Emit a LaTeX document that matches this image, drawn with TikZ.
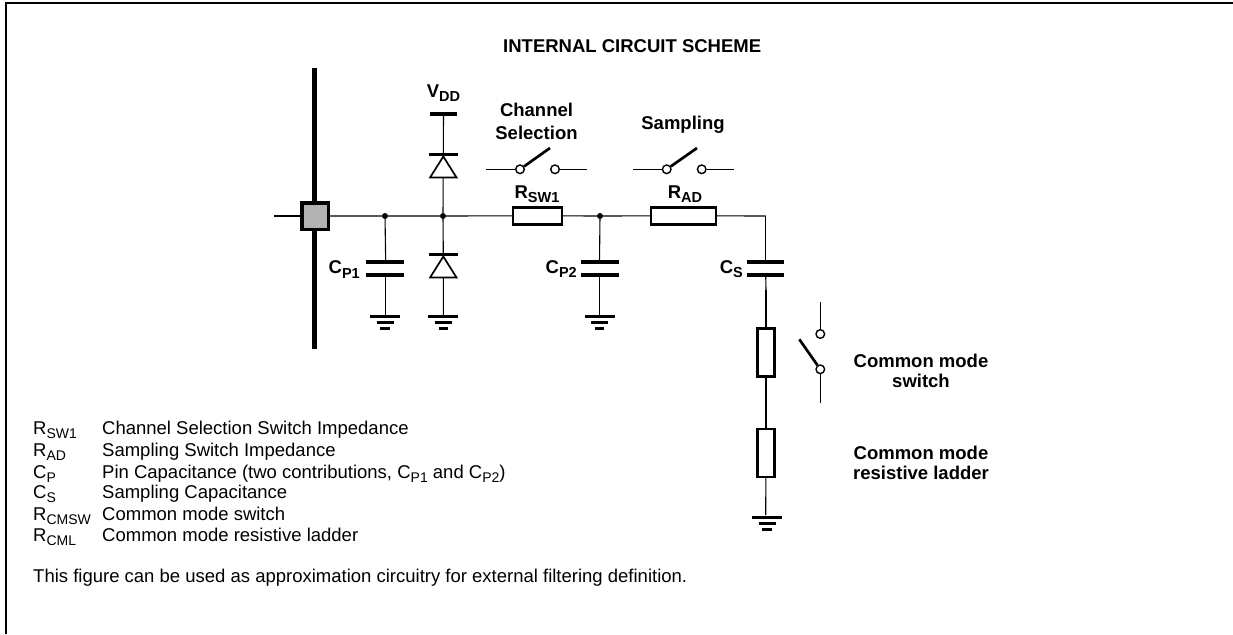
\documentclass[tikz,border=0pt]{standalone}
\usepackage{fontspec}
\setmainfont{Liberation Sans}
\usetikzlibrary{calc}
\newcommand{\subt}[1]{\raisebox{-4.5pt}{\fontsize{14.5}{16}\selectfont #1}}
\newcommand{\subl}[1]{\raisebox{-4pt}{\fontsize{14}{16}\selectfont #1}}
\tikzset{
  x=1pt,y=-1pt,
  wire/.style={line width=1.1pt,black},
  plate/.style={line width=4pt,black},
  thick wire/.style={line width=1.8pt,black},
  res/.style={draw=black,line width=2.4pt,fill=white,rectangle,inner sep=0pt,minimum width=#1,minimum height=17pt},
  resv/.style={draw=black,line width=2.4pt,fill=white,rectangle,inner sep=0pt,minimum width=17.3pt,minimum height=#1},
  dot/.style={circle,fill=black,inner sep=0pt,minimum size=6pt},
  contact/.style={circle,draw=black,line width=1.4pt,fill=white,inner sep=0pt,minimum size=8.6pt},
  arm/.style={line width=2.7pt,black},
  lbl/.style={inner sep=0pt,font=\fontsize{18.5}{20}\selectfont\bfseries,align=center},
  lgd/.style={inner sep=0pt,anchor=base west,font=\fontsize{18.5}{20}\selectfont},
}
\newcommand{\gnd}[2]{%
  \draw[line width=3pt] (#1-15,#2) -- (#1+15,#2);
  \draw[line width=3pt] (#1-8.5,#2+6) -- (#1+8.5,#2+6);
  \draw[line width=3pt] (#1-4.7,#2+12) -- (#1+4.7,#2+12);
}
\newcommand{\diode}[2]{%
  \draw[line width=1.7pt,fill=white,line join=miter] (#1,#2+2) -- (#1-13.2,#2+23) -- (#1+13.2,#2+23) -- cycle;
  \draw[line width=3pt] (#1-14.5,#2) -- (#1+14.5,#2);
}
\begin{document}
\begin{tikzpicture}
\useasboundingbox (0,0) rectangle (1233,634);
\fill[white] (0,0) rectangle (1233,634);
% frame
\draw[line width=2pt] (6,634) -- (6,3) -- (1233,3);
\node[lbl,anchor=base west] (title) at (503,52.7) {INTERNAL CIRCUIT SCHEME};
% pin
\coordinate (bust) at (314.5,68);
\coordinate (busb) at (314.5,349);
\draw[line width=5pt] (bust) -- (busb);
\coordinate (inL) at (274,216);
\node[draw=black,line width=3.5pt,fill=black!30,minimum size=26.5pt,inner sep=0pt] (pin) at (315,216) {};
\node[dot] (n1) at (385,216) {};
\node[dot] (n2) at (443,216) {};
\node[dot] (n3) at (600,216) {};
\node[res=48.6pt] (rsw) at (537.5,215.8) {};
\node[res=64.6pt] (rad) at (683.5,215.8) {};
\coordinate (corner) at (765.7,216);
\draw[wire] (inL) -- (pin);
\draw[wire] (pin) -- (n1) -- (n2) -- (rsw) -- (n3) -- (rad) -- (corner);
% Vdd
\coordinate (vdd) at (443.5,114);
\draw[line width=3.4pt] (430,114) -- (457,114);
\node[lbl,anchor=base] (vddl) at (443.5,97) {V\subt{DD}};
\coordinate (d1) at (443.3,155);
\coordinate (d2) at (443.3,255);
\coordinate (g2) at (443.3,316);
\draw[wire] (vdd) -- (d1) -- (n2) -- (d2) -- (g2);
\diode{443.3}{154.5}
\diode{443.3}{254.5}
\gnd{443.3}{316.5}
% CP1
\coordinate (c1t) at (385.7,262);
\coordinate (c1b) at (385.7,275);
\coordinate (g1) at (385.7,316);
\draw[wire] (n1) -- (c1t);
\draw[plate] (366,262) -- (404,262);
\draw[plate] (366,275) -- (404,275);
\draw[wire] (c1b) -- (g1);
\gnd{385}{316.5}
\node[lbl,anchor=base east] (cp1) at (360,273.5) {C\subt{P1}};
% CP2
\coordinate (c2t) at (599.5,262);
\coordinate (c2b) at (599.5,275);
\coordinate (g3) at (599.5,316);
\draw[wire] (n3) -- (c2t);
\draw[plate] (581,262) -- (619,262);
\draw[plate] (581,275) -- (619,275);
\draw[wire] (c2b) -- (g3);
\gnd{599.5}{316.5}
\node[lbl,anchor=base east] (cp2) at (577,273) {C\subt{P2}};
% CS
\coordinate (c3t) at (765.7,262);
\coordinate (c3b) at (765.7,275);
\draw[wire] (corner) -- (c3t);
\draw[plate] (747,262) -- (784,262);
\draw[plate] (747,275) -- (784,275);
\node[lbl,anchor=base east] (cs) at (743,273) {C\subt{S}};
% ladder
\node[resv=48pt] (r1) at (766,352.5) {};
\node[resv=47.6pt] (r2) at (766,453) {};
\coordinate (g4) at (765.7,515);
\coordinate (k1a) at (766,290);
\coordinate (k1b) at (766,317);
\coordinate (k2a) at (766,390);
\coordinate (k2b) at (766,415);
\draw[wire] (c3b) -- (k1a);
\draw[thick wire] (k1a) -- (k1b);
\draw[wire] (k1b) -- (r1);
\draw[wire] (r1) -- (k2a);
\draw[thick wire] (k2a) -- (k2b);
\draw[wire] (k2b) -- (r2);
\draw[wire] (r2) -- (g4);
\gnd{767}{517.3}
% sw 1
\node[contact] (s1a) at (520,169.3) {};
\node[contact] (s1b) at (555,169.3) {};
\coordinate (s1l) at (486,169.3);
\coordinate (s1r) at (587,169.3);
\coordinate (s1t) at (550,148);
\draw[wire] (s1l) -- (s1a);
\draw[wire] (s1b) -- (s1r);
\draw[arm] (s1a) -- (s1t);
% sw 2
\node[contact] (s2a) at (666.7,169.3) {};
\node[contact] (s2b) at (701.7,169.3) {};
\coordinate (s2l) at (633,169.3);
\coordinate (s2r) at (733.5,169.3);
\coordinate (s2t) at (697,148);
\draw[wire] (s2l) -- (s2a);
\draw[wire] (s2b) -- (s2r);
\draw[arm] (s2a) -- (s2t);
% sw 3
\node[contact] (s3a) at (820.3,334) {};
\node[contact] (s3b) at (820.3,369.3) {};
\coordinate (s3t) at (820.3,302);
\coordinate (s3d) at (820.3,403.3);
\coordinate (s3h) at (799.3,339.3);
\draw[wire] (s3t) -- (s3a);
\draw[wire] (s3b) -- (s3d);
\draw[arm] (s3b) -- (s3h);
% labels
\node[lbl,font=\fontsize{18.5}{23}\selectfont\bfseries] (chs) at (536.5,121) {Channel\\Selection};
\node[lbl,anchor=base] (smp) at (683,129) {Sampling};
\node[lbl,anchor=base] (rswl) at (537,198) {R\subt{SW1}};
\node[lbl,anchor=base] (radl) at (685,198) {R\subt{AD}};
\node[lbl] (cms) at (921,371) {Common mode\\switch};
\node[lbl] (cml) at (921,463) {Common mode\\resistive ladder};
% legend
\foreach \nm/\a/\b/\y in {k1/R/SW1/434,k2/R/AD/456,k3/C/P/478,k4/C/S/498.5,k5/R/CMSW/520,k6/R/CML/541}{
  \node[lgd] (\nm) at (33,\y) {\a\subl{\b}};
}
\node[lgd] (t1) at (102,434) {Channel Selection Switch Impedance};
\node[lgd] (t2) at (102,456) {Sampling Switch Impedance};
\node[lgd] (t3) at (102,478) {Pin Capacitance (two contributions, C\subl{P1} and C\subl{P2})};
\node[lgd] (t4) at (102,498.5) {Sampling Capacitance};
\node[lgd] (t5) at (102,520) {Common mode switch};
\node[lgd] (t6) at (102,541) {Common mode resistive ladder};
\node[lgd] (fig) at (33,582) {This figure can be used as approximation circuitry for external filtering definition.};
\end{tikzpicture}
\end{document}
